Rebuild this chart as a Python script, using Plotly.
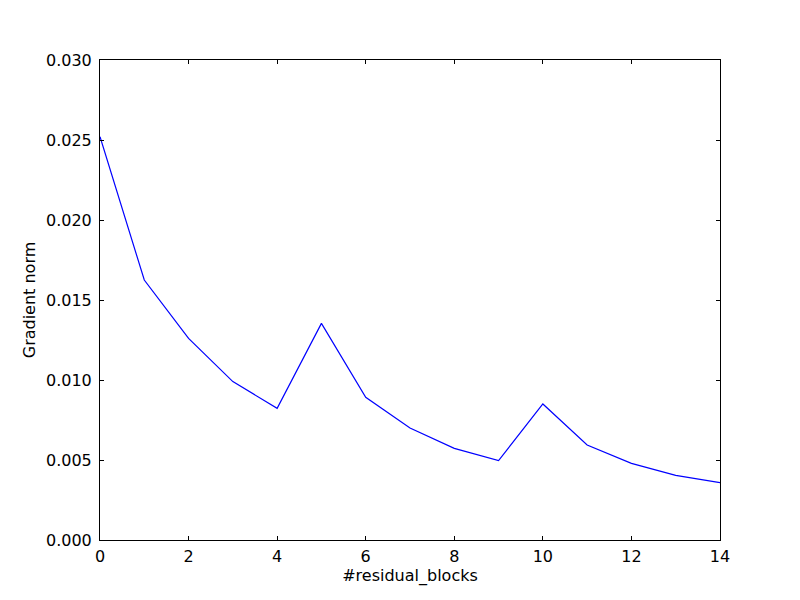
import plotly.graph_objects as go

residual_blocks = list(range(15))
gradient_norm = [0.0252, 0.01625, 0.0126, 0.0099, 0.00823, 0.01354, 0.00892, 0.0070,
                 0.00573, 0.00496, 0.0085, 0.00594, 0.00479, 0.00404, 0.00358]
y_ticks = [0.0, 0.005, 0.010, 0.015, 0.020, 0.025, 0.030]
y_tick_labels = ["0.000", "0.005", "0.010", "0.015", "0.020", "0.025", "0.030"]
x_ticks = [0, 2, 4, 6, 8, 10, 12, 14]

fig = go.Figure()
fig.add_trace(go.Scatter(x=residual_blocks, y=gradient_norm, mode="lines",
                         line=dict(color="#0000ff", width=1.2), showlegend=False))

font = dict(family="DejaVu Sans", size=16, color="black")
fig.update_layout(
    width=800, height=600,
    margin=dict(l=92, r=88, t=52, b=68, autoexpand=False),
    paper_bgcolor="white", plot_bgcolor="white",
    font=font,
    xaxis=dict(range=[0, 14], tickvals=x_ticks, ticks="inside", ticklen=4, tickcolor="black",
               showline=True, linecolor="black", linewidth=1, mirror="ticks",
               showgrid=False, zeroline=False, ticklabelstandoff=2,
               title=dict(text="#residual_blocks", standoff=4, font=font), automargin=False),
    yaxis=dict(range=[0, 0.030], tickvals=y_ticks, ticktext=y_tick_labels, ticks="inside",
               ticklen=4, tickcolor="black",
               showline=True, linecolor="black", linewidth=1, mirror="ticks",
               showgrid=False, zeroline=False, ticklabelstandoff=4,
               title=dict(text="Gradient norm", standoff=6, font=font), automargin=False),
)
fig.write_html("out.html")
